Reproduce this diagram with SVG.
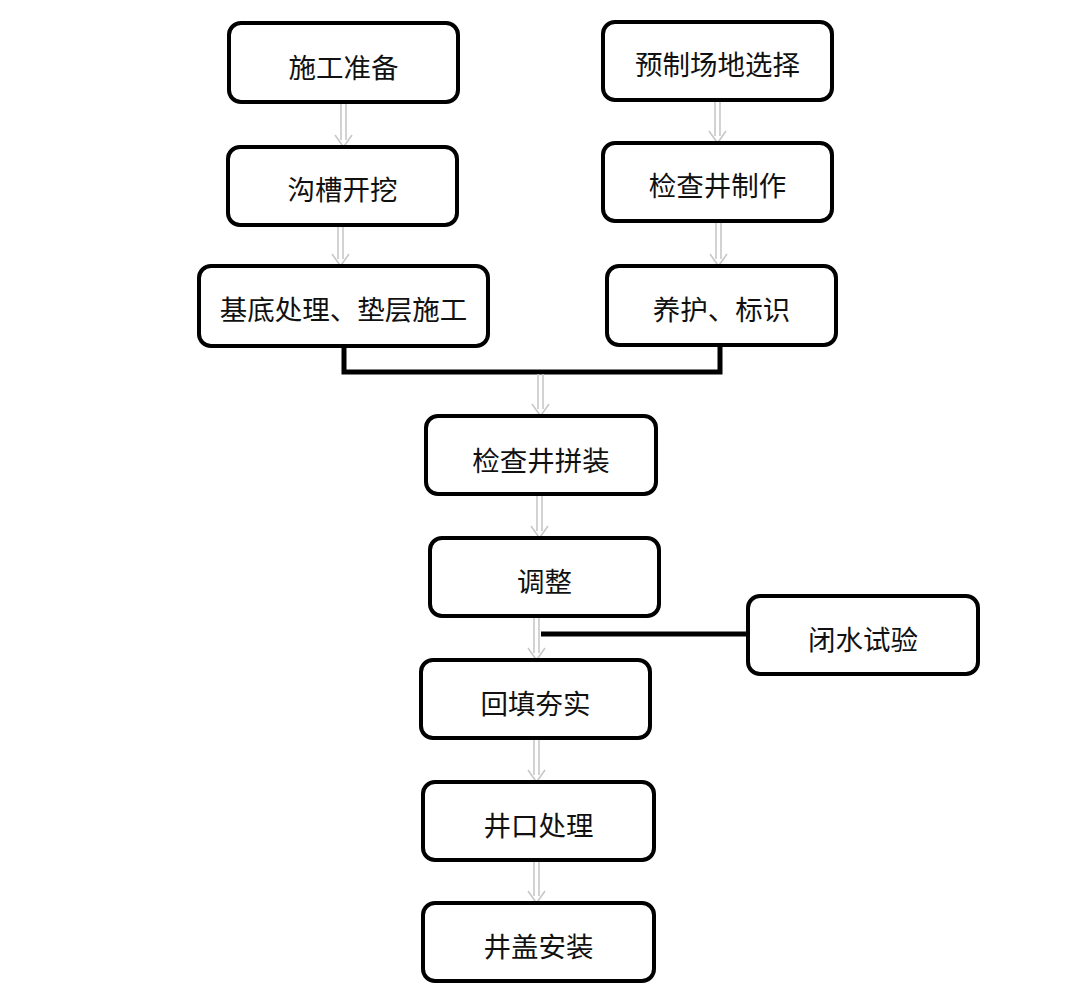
<svg xmlns="http://www.w3.org/2000/svg" width="1082" height="1000" viewBox="0 0 1082 1000">
<defs>
<style>
.box{fill:#fff;stroke:#000;stroke-width:4}
.t{font-family:"Noto Sans CJK SC","Noto Sans CJK JP",sans-serif;font-size:27.5px;fill:#111;text-anchor:middle;dominant-baseline:central}
.arr{fill:none;stroke:#c8c8c8;stroke-width:1.6}
.thick{fill:none;stroke:#000;stroke-width:5}
</style>
</defs>
<rect width="1082" height="1000" fill="#fff"/>
<g id="connectors">
<path class="thick" d="M344,346 V372 H720 V345"/>
<path class="thick" d="M748,634 H541"/>
<path class="arr" d="M341,104 V140 M346,104 V140 M335,135 L343.5,147 L352,135"/>
<path class="arr" d="M715,102 V136 M720,102 V136 M709,131 L717.5,143 L726,131"/>
<path class="arr" d="M338,227 V259 M343,227 V259 M332,254 L340.5,266 L349,254"/>
<path class="arr" d="M716,223 V259 M721,223 V259 M710,254 L718.5,266 L727,254"/>
<path class="arr" d="M538,374 V409 M543,374 V409 M532,404 L540.5,416 L549,404"/>
<path class="arr" d="M537,496 V531 M542,496 V531 M531,526 L539.5,538 L548,526"/>
<path class="arr" d="M534,618 V653 M539,618 V653 M528,648 L536.5,660 L545,648"/>
<path class="arr" d="M534,740 V775 M539,740 V775 M528,770 L536.5,782 L545,770"/>
<path class="arr" d="M534,862 V896 M539,862 V896 M528,891 L536.5,903 L545,891"/>
</g>
<g id="n1"><rect class="box" x="229" y="23" width="229" height="79" rx="12"/><text class="t" x="343.5" y="66">施工准备</text></g>
<g id="n2"><rect class="box" x="228" y="147" width="229" height="78" rx="12"/><text class="t" x="342.5" y="188">沟槽开挖</text></g>
<g id="n3"><rect class="box" x="199" y="266" width="289" height="80" rx="12"/><text class="t" x="343.5" y="308">基底处理、垫层施工</text></g>
<g id="n4"><rect class="box" x="603" y="22" width="229" height="78" rx="12"/><text class="t" x="717.5" y="63">预制场地选择</text></g>
<g id="n5"><rect class="box" x="603" y="143" width="229" height="78" rx="12"/><text class="t" x="717.5" y="184">检查井制作</text></g>
<g id="n6"><rect class="box" x="607" y="266" width="229" height="79" rx="12"/><text class="t" x="721.5" y="308">养护、标识</text></g>
<g id="n7"><rect class="box" x="426" y="416" width="230" height="78" rx="12"/><text class="t" x="541" y="459">检查井拼装</text></g>
<g id="n8"><rect class="box" x="430" y="538" width="229" height="78" rx="12"/><text class="t" x="544.5" y="580">调整</text></g>
<g id="n9"><rect class="box" x="748" y="596" width="230" height="78" rx="12"/><text class="t" x="863" y="638">闭水试验</text></g>
<g id="n10"><rect class="box" x="421" y="660" width="229" height="78" rx="12"/><text class="t" x="535.5" y="702">回填夯实</text></g>
<g id="n11"><rect class="box" x="423" y="782" width="231" height="78" rx="12"/><text class="t" x="538.5" y="824">井口处理</text></g>
<g id="n12"><rect class="box" x="423" y="903" width="231" height="78" rx="12"/><text class="t" x="538.5" y="945">井盖安装</text></g>
</svg>
